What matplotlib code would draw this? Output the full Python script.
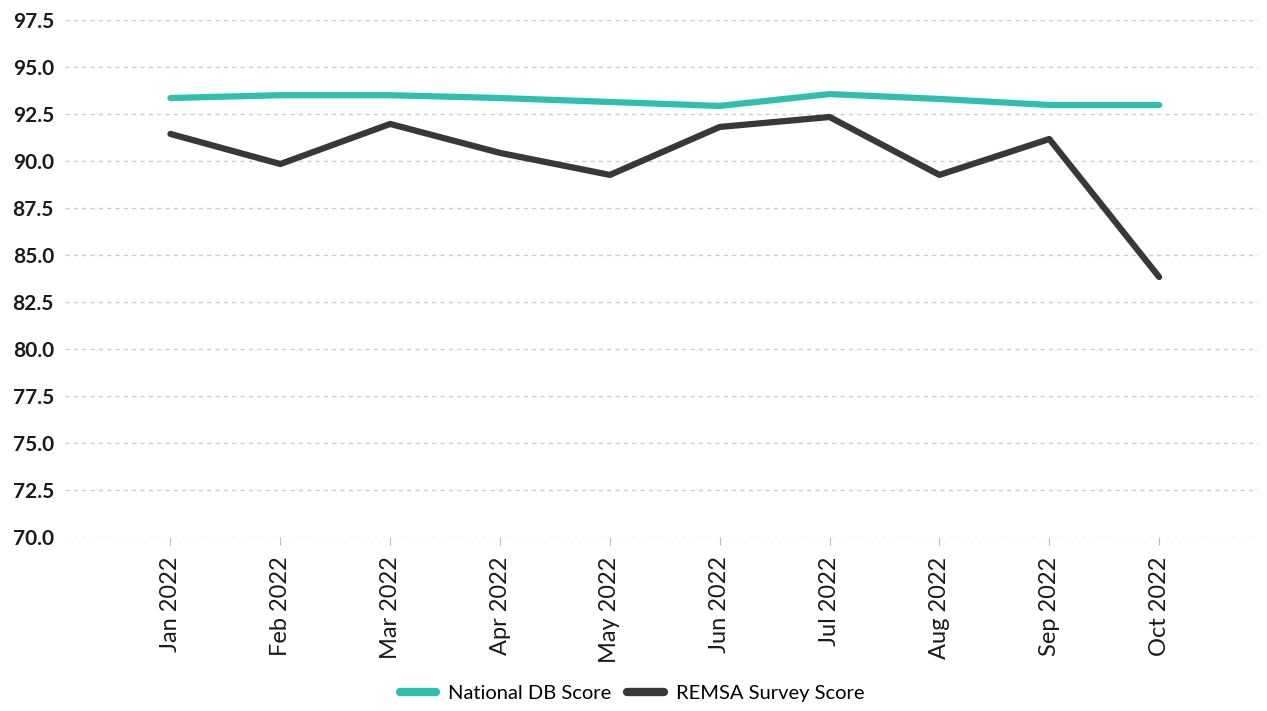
import numpy as np
import matplotlib.pyplot as plt

months = ['Jan 2022', 'Feb 2022', 'Mar 2022', 'Apr 2022', 'May 2022',
          'Jun 2022', 'Jul 2022', 'Aug 2022', 'Sep 2022', 'Oct 2022']
national = [93.35, 93.5, 93.5, 93.35, 93.14, 92.93, 93.56, 93.3, 92.98, 92.98]
remsa = [91.44, 89.84, 91.97, 90.43, 89.26, 91.81, 92.34, 89.26, 91.17, 83.83]
yticks = np.arange(70.0, 97.6, 2.5)

plt.rcParams['font.family'] = ['Lato', 'DejaVu Sans']

fig = plt.figure(figsize=(12.67, 7.11), dpi=100)
ax = fig.add_axes([65 / 1267, 1 - 537 / 711, (1258 - 65) / 1267, (537 - 20) / 711])

x = np.arange(len(months))
ax.plot(x, national, color='#2ebfb1', lw=4.5, label='National DB Score', solid_capstyle='round')
ax.plot(x, remsa, color='#383838', lw=4.5, label='REMSA Survey Score', solid_capstyle='round')

ax.set_ylim(70, 97.5)
ax.set_xlim(-0.96, 9.9)
ax.set_yticks(yticks)
ax.set_yticklabels(['%.1f' % v for v in yticks], fontsize=15, fontweight='bold', color='#1a1a1a')
ax.set_xticks(x)
ax.set_xticklabels(months, rotation=90, fontsize=17, color='#1a1a1a')
ax.tick_params(axis='y', length=0, pad=8)
ax.tick_params(axis='x', length=6, color='#bbbbbb', pad=8)
ax.grid(axis='y', color='#cccccc', linestyle=(0, (3, 3)), lw=1)
for s in ax.spines.values():
    s.set_visible(False)

leg = ax.legend(loc='center', ncol=2, frameon=False,
                fontsize=14.5, handlelength=1.8, handletextpad=0.6, columnspacing=0.8,
                bbox_to_anchor=(632 / 1267, 1 - 693 / 711), bbox_transform=fig.transFigure)
for h in leg.get_lines():
    h.set_linewidth(6)

fig.savefig('out.png', dpi=100)
